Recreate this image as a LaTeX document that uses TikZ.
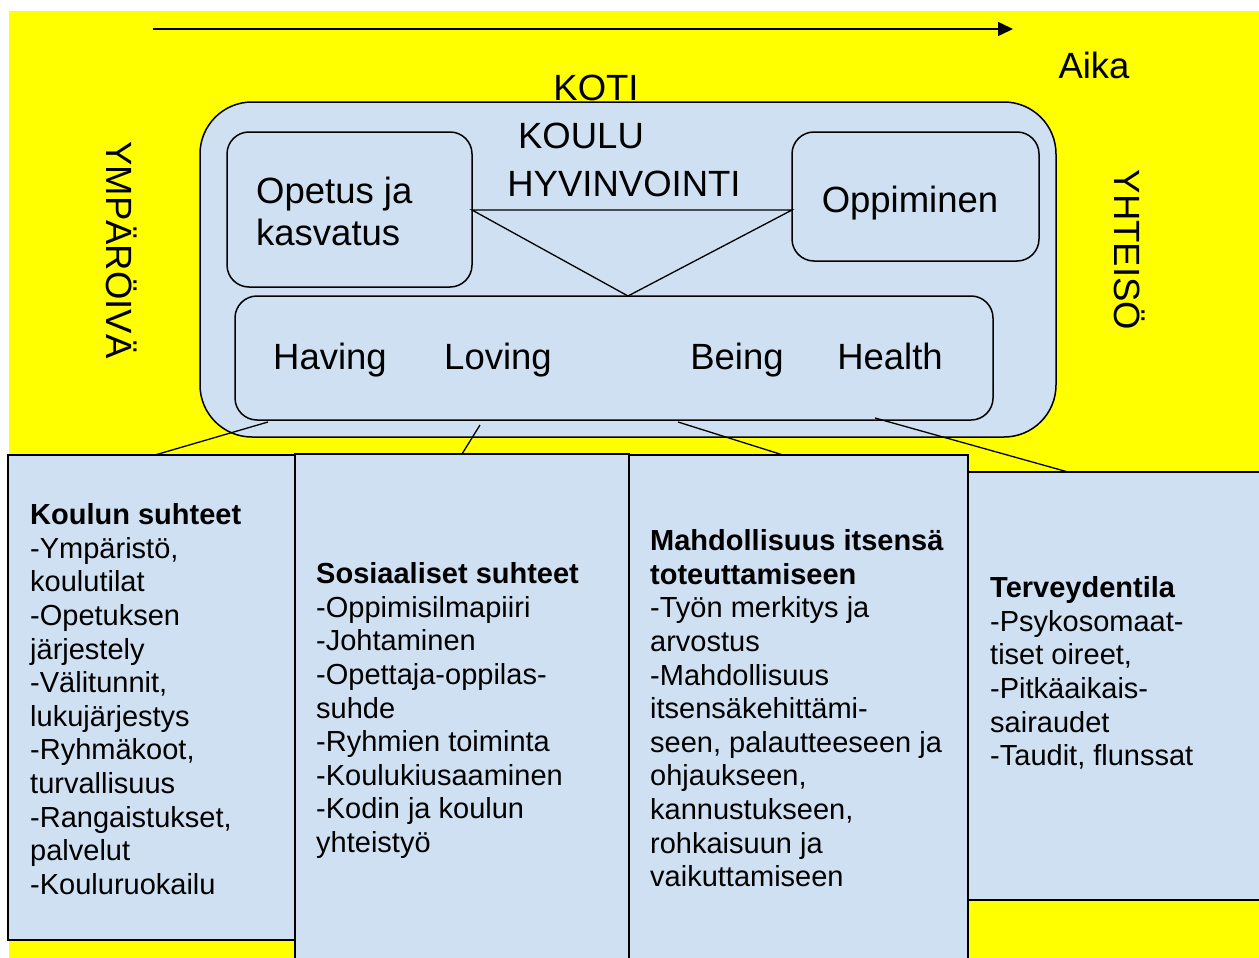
\documentclass[tikz,border=0pt]{standalone}
\usepackage{fontspec}
\setmainfont{Liberation Sans}
\usetikzlibrary{arrows.meta}
\definecolor{bgyellow}{RGB}{255,255,0}
\definecolor{boxblue}{RGB}{206,224,241}
\begin{document}
\begin{tikzpicture}[x=1pt,y=-1pt,
  boxbase/.style={draw=black, fill=boxblue, line width=1.5pt, inner sep=0pt, outer sep=0pt, anchor=north west},
  rbox/.style={boxbase, rounded corners=22pt},
  big/.style={font=\fontsize{36.5}{42}\selectfont, inner sep=0pt},
  body/.style={font=\fontsize{29}{33.6}\selectfont, inner sep=0pt, anchor=north west, align=left},
  link/.style={draw=black, line width=1.3pt}]
\useasboundingbox (0,0) rectangle (1259,958);
\fill[bgyellow] (9,11) rectangle (1259,958);

% time arrow
\coordinate (a0) at (153,29);
\coordinate (a1) at (1013,29);
\draw[line width=1.5pt, -{Triangle[length=15pt,width=14pt]}] (a0) -- (a1);
\node[big, anchor=base] (aika) at (1094,79) {Aika};
\node[big, anchor=base] (koti) at (596,100) {KOTI};
\node[big, rotate=-90] (ymp) at (122,250) {YMPÄRÖIVÄ};
\node[big, rotate=-90] (yht) at (1130,250) {YHTEISÖ};

% school box
\node[boxbase, rounded corners=52pt, minimum width=856pt, minimum height=335pt] (koulu) at (200,102) {};
\node[rbox, minimum width=245pt, minimum height=155pt] (opetus) at (227,132) {};
\node[rbox, minimum width=247pt, minimum height=129pt] (oppi) at (792,132) {};
\node[rbox, minimum width=758pt, minimum height=124pt] (hb) at (235,296) {};

\coordinate (t1) at (472,210);
\coordinate (t2) at (792,210);
\coordinate (t3) at (628,296);
\draw[link, line join=miter] (t1) -- (t2) -- (t3) -- cycle;

\node[big, anchor=base] (kouluT) at (581,148) {KOULU};
\node[big, anchor=base] (hyv) at (624,196) {HYVINVOINTI};
\node[big, anchor=north west, align=left] (opetusT) at (256,173.6) {\strut Opetus ja\\kasvatus};
\node[big, anchor=base] (oppiT) at (910,212) {Oppiminen};
\node[big, anchor=base] (having) at (330,369) {Having};
\node[big, anchor=base] (loving) at (498,369) {Loving};
\node[big, anchor=base] (being) at (737,369) {Being};
\node[big, anchor=base] (health) at (890,369) {Health};

% lower boxes
\node[boxbase, minimum width=287pt, minimum height=485pt] (b1) at (8,455) {};
\node[boxbase, minimum width=334pt, minimum height=512pt] (b2) at (295,454) {};
\node[boxbase, minimum width=339pt, minimum height=512pt] (b3) at (629,455) {};
\node[boxbase, minimum width=300pt, minimum height=428pt] (b4) at (968,472) {};

% connectors
\coordinate (h1) at (268,422);
\coordinate (k1) at (155,455);
\coordinate (h2) at (480,425);
\coordinate (k2) at (462,454);
\coordinate (h3) at (678,422);
\coordinate (k3) at (783,455);
\coordinate (h4) at (875,418);
\coordinate (k4) at (1068,472);
\draw[link] (h1) -- (k1);
\draw[link] (h2) -- (k2);
\draw[link] (h3) -- (k3);
\draw[link] (h4) -- (k4);

\node[body] (t1txt) at (30,500.9) {\strut\textbf{Koulun suhteet}\\-Ympäristö,\\koulutilat\\-Opetuksen\\järjestely\\-Välitunnit,\\lukujärjestys\\-Ryhmäkoot,\\turvallisuus\\-Rangaistukset,\\palvelut\\-Kouluruokailu};
\node[body] (t2txt) at (316,559.9) {\strut\textbf{Sosiaaliset suhteet}\\-Oppimisilmapiiri\\-Johtaminen\\-Opettaja-oppilas-\\suhde\\-Ryhmien toiminta\\-Koulukiusaaminen\\-Kodin ja koulun\\yhteistyö};
\node[body] (t3txt) at (650,526.9) {\strut\textbf{Mahdollisuus itsensä}\\\textbf{toteuttamiseen}\\-Työn merkitys ja\\arvostus\\-Mahdollisuus\\itsensäkehittämi-\\seen, palautteeseen ja\\ohjaukseen,\\kannustukseen,\\rohkaisuun ja\\vaikuttamiseen};
\node[body] (t4txt) at (990,573.9) {\strut\textbf{Terveydentila}\\-Psykosomaat-\\tiset oireet,\\-Pitkäaikais-\\sairaudet\\-Taudit, flunssat};
\end{tikzpicture}
\end{document}
